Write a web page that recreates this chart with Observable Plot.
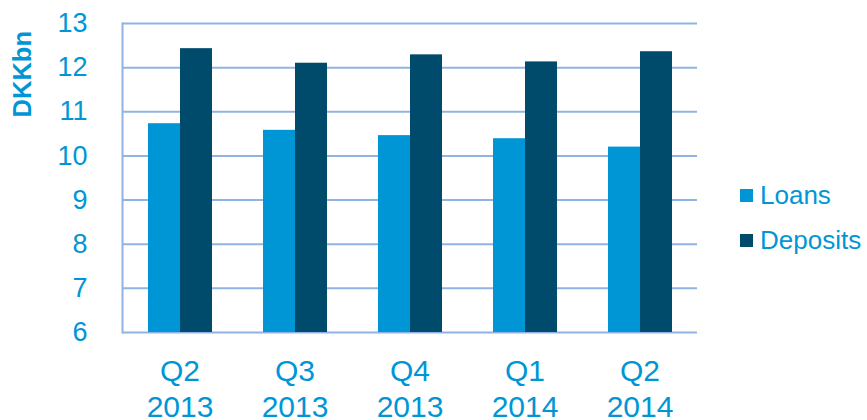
<!DOCTYPE html>
<html>
<head>
<meta charset="utf-8">
<script src="https://cdn.jsdelivr.net/npm/d3@7"></script>
<script src="https://cdn.jsdelivr.net/npm/@observablehq/plot@0.6"></script>
<style>
  html, body { margin: 0; padding: 0; background: #fff; }
  #wrap { position: relative; width: 867px; height: 420px; font-family: "Liberation Sans", Arial, sans-serif; color: #0096d6; }
  #ylabel { position: absolute; left: 8px; top: 31px; font-weight: bold; font-size: 25.5px; writing-mode: vertical-rl; transform: rotate(180deg); line-height: 28px; }
  #legend { position: absolute; left: 740px; top: 173px; font-size: 26px; line-height: 45px; }
  #legend .item { display: flex; align-items: center; white-space: nowrap; }
  #legend .sw { width: 13px; height: 13px; margin-right: 7px; display: inline-block; }
</style>
</head>
<body>
<div id="wrap">
  <div id="chart"></div>
  <div id="ylabel">DKKbn</div>
  <div id="legend"></div>
</div>
<script>
const quarters = ["Q2\n2013", "Q3\n2013", "Q4\n2013", "Q1\n2014", "Q2\n2014"];
const series = ["Loans", "Deposits"];
const loans = [10.73, 10.58, 10.46, 10.39, 10.20];
const deposits = [12.43, 12.10, 12.29, 12.13, 12.36];
const yTicks = [6, 7, 8, 9, 10, 11, 12, 13];
const colors = ["#0096d6", "#004b6c"];
const textColor = "#0096d6";
const gridColor = "#8fb4e3";

const data = [];
quarters.forEach((q, i) => {
  data.push({quarter: q, series: "Loans", value: loans[i]});
  data.push({quarter: q, series: "Deposits", value: deposits[i]});
});

const plot = Plot.plot({
  width: 867,
  height: 420,
  marginLeft: 120,
  marginRight: 169,
  marginTop: 23,
  marginBottom: 88,
  style: {fontFamily: "'Liberation Sans', Arial, sans-serif", background: "transparent"},
  fx: {domain: quarters, padding: 0, axis: null, label: null},
  x: {domain: series, paddingInner: 0, paddingOuter: 0.75, axis: null},
  y: {domain: [6, 13], axis: null, label: null},
  color: {domain: series, range: colors},
  marks: [
    Plot.ruleY(yTicks, {stroke: gridColor, strokeWidth: 2}),
    Plot.frame({anchor: "left", facetAnchor: "left", stroke: gridColor, strokeWidth: 2}),
    Plot.barY(data, {fx: "quarter", x: "series", y1: 6, y2: "value", fill: "series", insetLeft: 0, insetRight: 0}),
    Plot.axisY({ticks: yTicks, tickFormat: d => String(d), tickSize: 0, tickPadding: 35, fontSize: 27, fill: textColor, label: null}),
    Plot.axisFx({anchor: "bottom", tickSize: 0, tickPadding: 23, fontSize: 30, lineHeight: 1.2, fill: textColor, label: null})
  ]
});
document.getElementById("chart").appendChild(plot);
plot.querySelectorAll("text").forEach(t => {
  const g = t.closest("[text-anchor]");
  const anchor = g ? g.getAttribute("text-anchor") : getComputedStyle(t).textAnchor;
  const size = anchor === "end" ? "27px" : "30px";
  t.style.fontSize = size;
  t.querySelectorAll("tspan").forEach(s => s.style.fontSize = size);
});

const legend = document.getElementById("legend");
series.forEach((s, i) => {
  const div = document.createElement("div");
  div.className = "item";
  div.innerHTML = `<span class="sw" style="background:${colors[i]}"></span><span>${s}</span>`;
  legend.appendChild(div);
});
</script>
</body>
</html>
